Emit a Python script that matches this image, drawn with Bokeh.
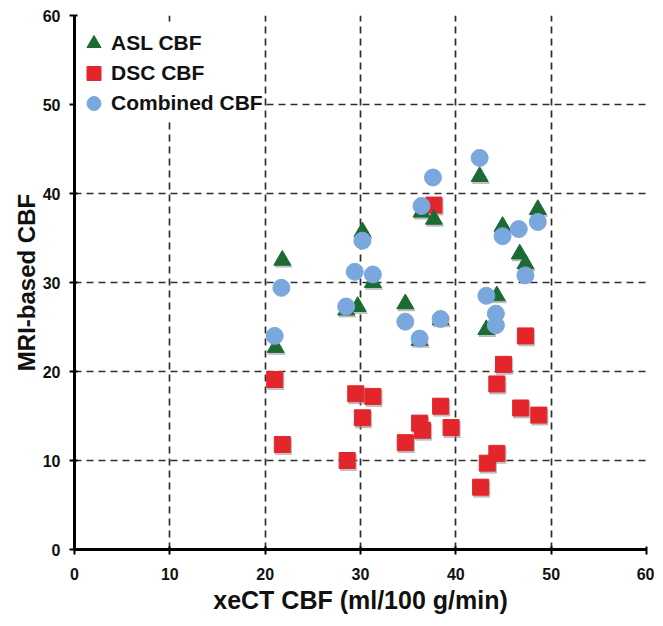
from bokeh.plotting import figure
from bokeh.models import Range1d, FixedTicker, Legend, LegendItem
from bokeh.transform import dodge
from bokeh.embed import file_html
from bokeh.resources import INLINE

# ---- data ----
asl_x = [21.1, 21.8, 28.5, 29.7, 30.2, 31.3, 34.7, 36.2, 36.4, 37.7, 38.4, 42.5, 43.2, 44.3, 44.9, 46.7, 47.3, 48.6]
asl_y = [22.7, 32.5, 26.9, 27.3, 35.7, 30.0, 27.6, 23.5, 37.9, 37.1, 25.8, 41.9, 24.7, 28.5, 36.3, 33.2, 32.1, 38.2]

dsc_x = [21.0, 21.8, 28.6, 29.5, 30.2, 31.3, 34.7, 36.2, 36.5, 37.7, 38.4, 39.5, 42.6, 43.3, 44.3, 44.3, 45.0, 46.8, 47.3, 48.7]
dsc_y = [19.1, 11.8, 10.0, 17.5, 14.8, 17.2, 12.0, 14.2, 13.4, 38.7, 16.1, 13.7, 7.0, 9.7, 10.8, 18.6, 20.8, 15.9, 24.0, 15.1]

comb_x = [21.0, 21.7, 28.5, 29.4, 30.2, 31.3, 34.7, 36.2, 36.4, 37.6, 38.4, 42.5, 43.2, 44.2, 44.2, 44.9, 46.6, 47.3, 48.6]
comb_y = [24.0, 29.4, 27.3, 31.2, 34.7, 30.9, 25.6, 23.7, 38.6, 41.8, 25.9, 44.0, 28.5, 26.5, 25.2, 35.2, 36.0, 30.8, 36.8]

ticks = [0, 10, 20, 30, 40, 50, 60]
labels = ["ASL CBF", "DSC CBF", "Combined CBF"]

GREEN = "#1b6b32"
RED = "#e3262b"
BLUE = "#7ba7df"
FONT = "Liberation Sans"

p = figure(frame_width=572, frame_height=534, output_backend="svg", toolbar_location=None,
           x_range=Range1d(0, 60), y_range=Range1d(0, 60),
           min_border_left=74, min_border_top=15, min_border_right=8, min_border_bottom=61)
p.outline_line_color = None
p.background_fill_color = "white"
p.border_fill_color = "white"

for ax in (p.xaxis, p.yaxis):
    ax.ticker = FixedTicker(ticks=ticks)
    ax.axis_line_width = 3
    ax.axis_line_color = "black"
    ax.major_tick_line_width = 2
    ax.major_tick_line_color = "black"
    ax.major_tick_out = 5
    ax.major_tick_in = 3
    ax.minor_tick_line_color = None
    ax.major_label_text_font = FONT
    ax.major_label_text_font_style = "bold"
    ax.major_label_text_font_size = "16px"
    ax.major_label_text_color = "#111111"
    ax.axis_label_text_font = FONT
    ax.axis_label_text_font_style = "bold"
    ax.axis_label_text_color = "#111111"

p.xaxis.axis_label = "xeCT CBF (ml/100 g/min)"
p.yaxis.axis_label = "MRI-based CBF"
p.xaxis.axis_label_text_font_size = "25px"
p.yaxis.axis_label_text_font_size = "24px"
p.xaxis.major_label_standoff = 13
p.xaxis.axis_label_standoff = 3
p.yaxis.major_label_standoff = 9
p.yaxis.axis_label_standoff = 0

for g in (p.xgrid, p.ygrid):
    g.ticker = FixedTicker(ticks=ticks)
    g.grid_line_color = "#2e2e2e"
    g.grid_line_width = 1.7
    g.grid_line_dash = "7 5"

# subtle drop shadows
sh = dict(color="#9a9a9a", alpha=0.55)
p.scatter(x=dodge("x", 0.12), y=dodge("y", -0.22), source=dict(x=dsc_x, y=dsc_y), marker="square", size=16, **sh)
p.scatter(x=dodge("x", 0.12), y=dodge("y", -0.22), source=dict(x=asl_x, y=asl_y), marker="triangle", size=17, **sh)

r_dsc = p.scatter(dsc_x, dsc_y, marker="square", size=16, color=RED)
r_asl = p.scatter(asl_x, asl_y, marker="triangle", size=17, color=GREEN)
r_comb = p.scatter(comb_x, comb_y, marker="circle", size=17, color=BLUE)

# one single-item legend per series so the legend markers can be large while rows stay 30px apart
for i, (lab, r) in enumerate(zip(labels, [r_asl, r_dsc, r_comb])):
    lg = Legend(items=[LegendItem(label=lab, renderers=[r])], location=(2, 487 - 30 * i))
    lg.padding = 0
    lg.margin = 0
    lg.spacing = 0
    lg.glyph_width = 35
    lg.glyph_height = 38
    lg.label_height = 30
    lg.label_standoff = 0
    lg.label_text_font = FONT
    lg.label_text_font_style = "bold"
    lg.label_text_font_size = "21px"
    lg.label_text_color = "#111111"
    lg.background_fill_color = "white"
    lg.background_fill_alpha = 1.0
    lg.border_line_color = None
    p.add_layout(lg)

open("out.html", "w").write(file_html(p, INLINE))
